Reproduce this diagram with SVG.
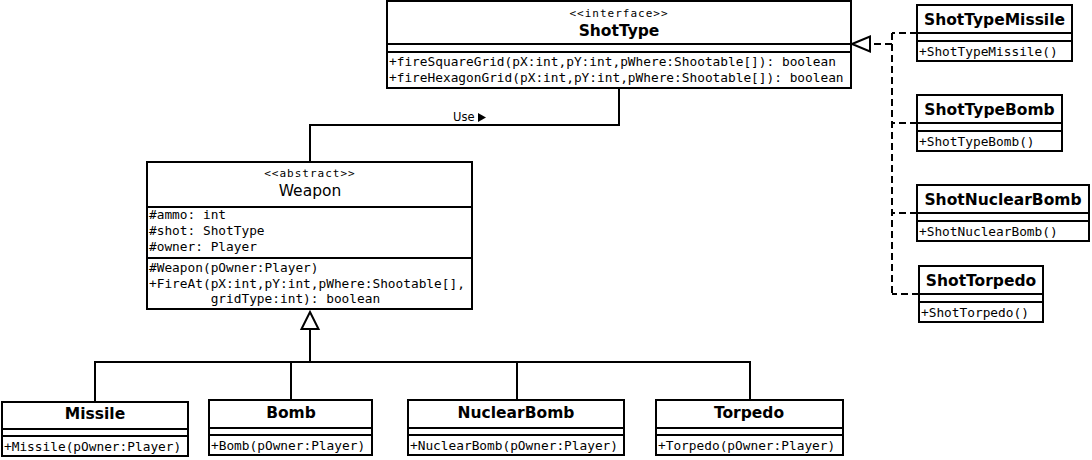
<svg xmlns="http://www.w3.org/2000/svg" width="1092" height="460" viewBox="0 0 1092 460">
<style>
  .box{fill:#fff;stroke:#000;stroke-width:2}
  .sep{stroke:#000;stroke-width:2}
  .st{font-family:"DejaVu Sans Mono","Liberation Mono",monospace;font-size:11px;letter-spacing:1px;text-anchor:middle;fill:#000}
  .bn{font-family:"DejaVu Sans","Liberation Sans",sans-serif;font-size:15.5px;font-weight:bold;text-anchor:middle;fill:#000}
  .rn{font-family:"DejaVu Sans","Liberation Sans",sans-serif;font-size:15.5px;text-anchor:middle;fill:#000}
  .m{font-family:"DejaVu Sans Mono","Liberation Mono",monospace;font-size:12.8px;fill:#000;white-space:pre}
  .ln{fill:none;stroke:#000;stroke-width:2}
  .dash{fill:none;stroke:#000;stroke-width:2;stroke-dasharray:7,4}
  .lbl{font-family:"DejaVu Sans","Liberation Sans",sans-serif;font-size:11.5px;fill:#000}
</style>
<rect width="1092" height="460" fill="#fff"/>

<g id="connectors">
  <!-- Use association -->
  <polyline class="ln" points="619,88 619,125 310,125 310,162"/>
  <text class="lbl" x="453" y="121">Use</text>
  <polygon points="478,113 486,117.5 478,122" fill="#000"/>
  <!-- generalization -->
  <polyline class="ln" points="310,329 310,362"/>
  <polyline class="ln" points="95,401 95,362 750,362 750,400"/>
  <line class="ln" x1="291" y1="362" x2="291" y2="400"/>
  <line class="ln" x1="517" y1="362" x2="517" y2="400"/>
  <polygon points="310,312 318.5,329 301.5,329" fill="#fff" stroke="#000" stroke-width="2"/>
  <!-- realizations -->
  <line class="dash" x1="892" y1="33" x2="892" y2="294"/>
  <line class="dash" x1="917" y1="33" x2="892" y2="33"/>
  <line class="dash" x1="917" y1="123" x2="892" y2="123"/>
  <line class="dash" x1="917" y1="213" x2="892" y2="213"/>
  <line class="dash" x1="919" y1="294" x2="892" y2="294"/>
  <line class="dash" x1="892" y1="44" x2="870" y2="44"/>
  <polygon points="852,44 870,36.5 870,51.5" fill="#fff" stroke="#000" stroke-width="2"/>
</g>

<g id="ShotType">
  <rect class="box" x="387" y="1" width="464" height="87"/>
  <line class="sep" x1="387" y1="44" x2="851" y2="44"/>
  <line class="sep" x1="387" y1="52" x2="851" y2="52"/>
  <text class="st" x="619" y="17">&lt;&lt;interface&gt;&gt;</text>
  <text class="bn" x="619" y="36">ShotType</text>
  <text class="m" x="389" y="66">+fireSquareGrid(pX:int,pY:int,pWhere:Shootable[]): boolean</text>
  <text class="m" x="389" y="82">+fireHexagonGrid(pX:int,pY:int,pWhere:Shootable[]): boolean</text>
</g>

<g id="Weapon">
  <rect class="box" x="147" y="162" width="325" height="147"/>
  <line class="sep" x1="147" y1="207" x2="472" y2="207"/>
  <line class="sep" x1="147" y1="258" x2="472" y2="258"/>
  <text class="st" x="310" y="177">&lt;&lt;abstract&gt;&gt;</text>
  <text class="rn" x="310" y="196">Weapon</text>
  <text class="m" x="149" y="219">#ammo: int</text>
  <text class="m" x="149" y="235">#shot: ShotType</text>
  <text class="m" x="149" y="251">#owner: Player</text>
  <text class="m" x="149" y="272">#Weapon(pOwner:Player)</text>
  <text class="m" x="149" y="288">+FireAt(pX:int,pY:int,pWhere:Shootable[],</text>
  <text class="m" x="149" y="303">        gridType:int): boolean</text>
</g>

<g id="Missile">
  <rect class="box" x="2" y="402" width="186" height="54"/>
  <line class="sep" x1="2" y1="429" x2="188" y2="429"/>
  <line class="sep" x1="2" y1="436" x2="188" y2="436"/>
  <text class="bn" x="95" y="419">Missile</text>
  <text class="m" x="4" y="451">+Missile(pOwner:Player)</text>
</g>

<g id="Bomb">
  <rect class="box" x="209" y="400" width="163" height="55"/>
  <line class="sep" x1="209" y1="428" x2="372" y2="428"/>
  <line class="sep" x1="209" y1="435" x2="372" y2="435"/>
  <text class="bn" x="291" y="418">Bomb</text>
  <text class="m" x="211" y="450">+Bomb(pOwner:Player)</text>
</g>

<g id="NuclearBomb">
  <rect class="box" x="408" y="400" width="216" height="55"/>
  <line class="sep" x1="408" y1="428" x2="624" y2="428"/>
  <line class="sep" x1="408" y1="435" x2="624" y2="435"/>
  <text class="bn" x="516" y="418">NuclearBomb</text>
  <text class="m" x="410" y="450">+NuclearBomb(pOwner:Player)</text>
</g>

<g id="Torpedo">
  <rect class="box" x="656" y="400" width="187" height="55"/>
  <line class="sep" x1="656" y1="428" x2="843" y2="428"/>
  <line class="sep" x1="656" y1="435" x2="843" y2="435"/>
  <text class="bn" x="749" y="418">Torpedo</text>
  <text class="m" x="658" y="450">+Torpedo(pOwner:Player)</text>
</g>

<g id="ShotTypeMissile">
  <rect class="box" x="917" y="5" width="155" height="56"/>
  <line class="sep" x1="917" y1="33" x2="1072" y2="33"/>
  <line class="sep" x1="917" y1="41" x2="1072" y2="41"/>
  <text class="bn" x="994.5" y="25">ShotTypeMissile</text>
  <text class="m" x="919" y="56">+ShotTypeMissile()</text>
</g>

<g id="ShotTypeBomb">
  <rect class="box" x="917" y="95" width="145" height="56"/>
  <line class="sep" x1="917" y1="123" x2="1062" y2="123"/>
  <line class="sep" x1="917" y1="131" x2="1062" y2="131"/>
  <text class="bn" x="989.5" y="115">ShotTypeBomb</text>
  <text class="m" x="919" y="146">+ShotTypeBomb()</text>
</g>

<g id="ShotNuclearBomb">
  <rect class="box" x="917" y="185" width="172" height="56"/>
  <line class="sep" x1="917" y1="213" x2="1089" y2="213"/>
  <line class="sep" x1="917" y1="221" x2="1089" y2="221"/>
  <text class="bn" x="1003" y="205">ShotNuclearBomb</text>
  <text class="m" x="919" y="236">+ShotNuclearBomb()</text>
</g>

<g id="ShotTorpedo">
  <rect class="box" x="919" y="266" width="124" height="56"/>
  <line class="sep" x1="919" y1="294" x2="1043" y2="294"/>
  <line class="sep" x1="919" y1="302" x2="1043" y2="302"/>
  <text class="bn" x="981" y="286">ShotTorpedo</text>
  <text class="m" x="921" y="317">+ShotTorpedo()</text>
</g>
</svg>
